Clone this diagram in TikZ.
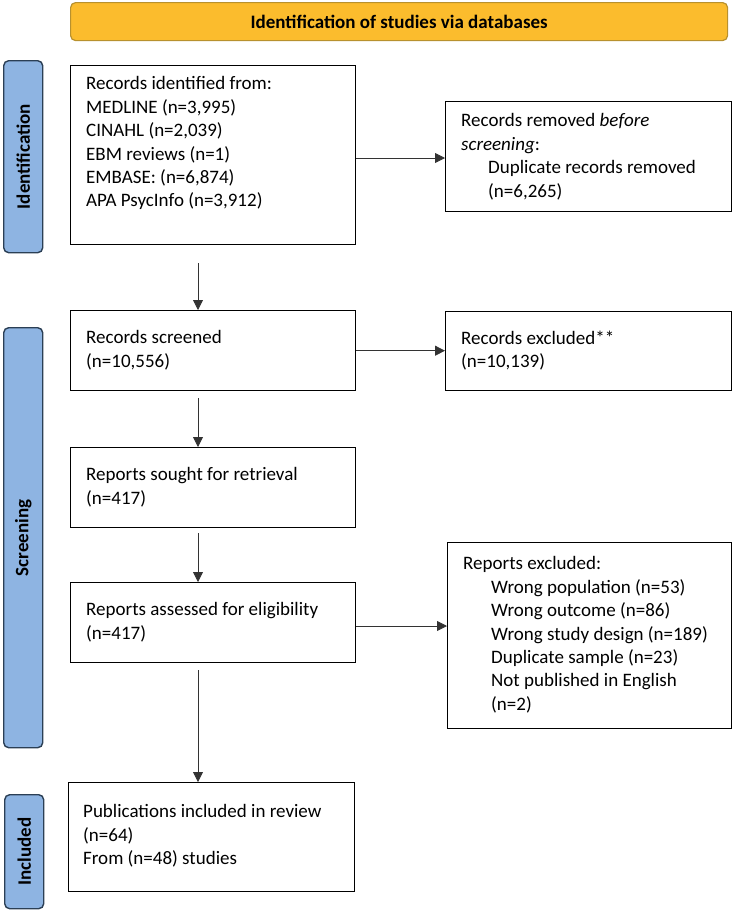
\documentclass[tikz,border=0pt]{standalone}
\usepackage{fontspec}
\setmainfont{Carlito}
\usetikzlibrary{arrows.meta}
\definecolor{bannerfill}{HTML}{FBBC2D}
\definecolor{bannerdraw}{HTML}{B8912E}
\definecolor{sidefill}{HTML}{8EB4E2}
\definecolor{sidedraw}{HTML}{2B3F55}
\definecolor{linecol}{HTML}{333333}
\tikzset{
  box/.style={draw=black, line width=1.4pt, fill=white, inner sep=0pt, anchor=north west},
  txt/.style={anchor=north west, inner sep=0pt, align=left, font=\fontsize{19}{23.4}\selectfont},
  side/.style={draw=sidedraw, fill=sidefill, line width=1.4pt, rounded corners=5pt, inner sep=0pt, anchor=north west},
  sidetxt/.style={rotate=90, font=\fontsize{19}{22}\selectfont\bfseries},
  conn/.style={draw=linecol, line width=0.8pt, -{Triangle[width=10pt,length=10pt]}},
}
\begin{document}
\begin{tikzpicture}[x=1pt,y=-1pt]
\useasboundingbox (0,0) rectangle (734,910);
% banner
\node[draw=bannerdraw, fill=bannerfill, line width=1.2pt, rounded corners=5pt, anchor=north west, minimum width=657pt, minimum height=38pt, inner sep=0pt,
  font=\fontsize{19}{22}\selectfont\bfseries] (banner) at (70,2) {Identification of studies via databases};
% side labels
\node[side, minimum width=39pt, minimum height=192pt] (sidI) at (3,60) {};
\node[sidetxt] at (sidI.center) {Identification};
\node[side, minimum width=39pt, minimum height=420pt] (sidS) at (3,327) {};
\node[sidetxt] at (sidS.center) {Screening};
\node[side, minimum width=39pt, minimum height=114pt] (sidN) at (4,794) {};
\node[sidetxt] at (sidN.center) {Included};
% boxes
\node[box, minimum width=285pt, minimum height=179pt] (b1) at (70,65) {};
\node[txt] (t1) at (86,76.5) {Records identified from:\\MEDLINE (n=3,995)\\CINAHL (n=2,039)\\EBM reviews (n=1)\\EMBASE: (n=6,874)\\APA PsycInfo (n=3,912)};
\node[box, minimum width=286pt, minimum height=110pt] (b2) at (445,101) {};
\node[txt] (t2) at (461,113.5) {Records removed \emph{before}\\\emph{screening}:\\\hspace*{27pt}Duplicate records removed\\\hspace*{27pt}(n=6,265)};
\node[box, minimum width=285pt, minimum height=80pt] (b3) at (70,310) {};
\node[txt] (t3) at (86,330.5) {Records screened\\(n=10,556)};
\node[box, minimum width=286pt, minimum height=79pt] (b4) at (445,311) {};
\node[txt] (t4) at (461,330.5) {Records excluded**\\(n=10,139)};
\node[box, minimum width=285pt, minimum height=80pt] (b5) at (70,447) {};
\node[txt] (t5) at (86,467.5) {Reports sought for retrieval\\(n=417)};
\node[box, minimum width=285pt, minimum height=80pt] (b6) at (70,582) {};
\node[txt] (t6) at (86,602.5) {Reports assessed for eligibility\\(n=417)};
\node[box, minimum width=284pt, minimum height=186pt] (b7) at (447,542) {};
\node[txt] (t7) at (463,556.5) {Reports excluded:\\\hspace*{28pt}Wrong population (n=53)\\\hspace*{28pt}Wrong outcome (n=86)\\\hspace*{28pt}Wrong study design (n=189)\\\hspace*{28pt}Duplicate sample (n=23)\\\hspace*{28pt}Not published in English\\\hspace*{28pt}(n=2)};
\node[box, minimum width=286pt, minimum height=109pt] (b8) at (68,782) {};
\node[txt] (t8) at (83,804.5) {Publications included in review\\(n=64)\\From (n=48) studies};
% connectors
\coordinate (a1s) at (198,263);
\draw[conn] (a1s) -- (b3.north -| a1s);
\draw[conn] (b1.east |- 0,158) -- (b2.west |- 0,158);
\draw[conn] (b3.east) -- (b4.west |- b3.east);
\coordinate (a2s) at (198,398);
\draw[conn] (a2s) -- (b5.north -| a2s);
\coordinate (a3s) at (198,533);
\draw[conn] (a3s) -- (b6.north -| a3s);
\draw[conn] (b6.east |- 0,626) -- (b7.west |- 0,626);
\coordinate (a4s) at (198,670);
\draw[conn] (a4s) -- (b8.north -| a4s);
\end{tikzpicture}
\end{document}
